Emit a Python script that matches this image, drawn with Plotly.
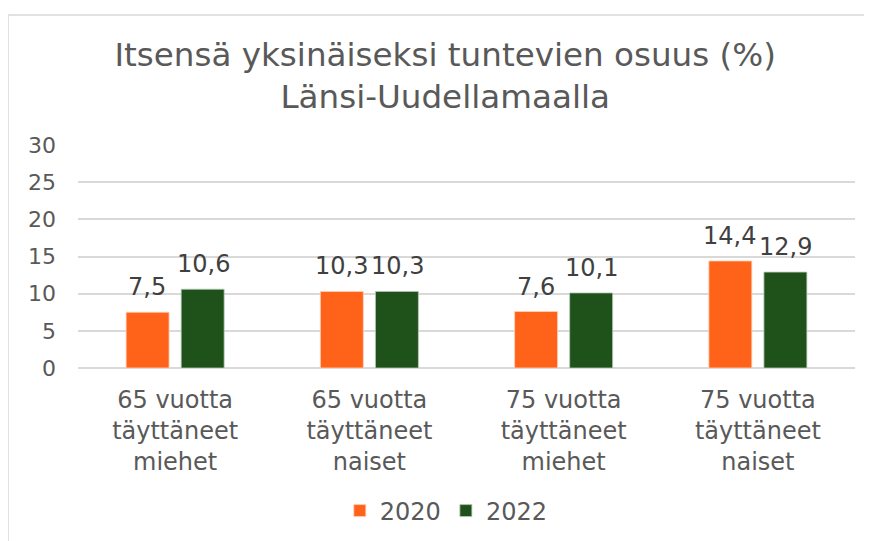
import plotly.graph_objects as go

categories = ["65 vuotta<br>täyttäneet<br>miehet", "65 vuotta<br>täyttäneet<br>naiset",
              "75 vuotta<br>täyttäneet<br>miehet", "75 vuotta<br>täyttäneet<br>naiset"]
values_2020 = [7.5, 10.3, 7.6, 14.4]
values_2022 = [10.6, 10.3, 10.1, 12.9]
y_ticks = [0, 5, 10, 15, 20, 25, 30]

font = "DejaVu Sans"
txt = "#595959"

fig = go.Figure()
fig.add_trace(go.Bar(x=categories, y=values_2020, name="2020",
                     marker=dict(color="#FF6319", line=dict(color="#FFD0B8", width=0.8))))
fig.add_trace(go.Bar(x=categories, y=values_2022, name="2022",
                     marker=dict(color="#1F521B", line=dict(color="#B8C8B8", width=0.8))))

# data labels sit a bit higher above the bars than plotly's outside text
for vals, dx in [(values_2020, -28), (values_2022, 28)]:
    for c, v in zip(categories, vals):
        fig.add_annotation(x=c, y=v, text=f"{v:.1f}".replace(".", ","), showarrow=False,
                           xshift=dx, yshift=9, yanchor="bottom",
                           font=dict(family=font, size=24, color="#404040"))

# page body adds an 8px offset, so the figure is 864x533 drawn from (8, 8)
fig.update_layout(
    width=864, height=533,
    separators=", ",
    paper_bgcolor="white", plot_bgcolor="white",
    margin=dict(l=70, r=17, t=137, b=173, autoexpand=False),
    font=dict(family=font, color=txt, size=22),
    title=dict(text="Itsensä yksinäiseksi tuntevien osuus (%)<br>Länsi-Uudellamaalla",
               x=0.506, xanchor="center", y=1 - 58 / 533, yanchor="middle",
               font=dict(family=font, size=32.6, color=txt)),
    barmode="group", bargap=0.433, bargroupgap=0.22,
    showlegend=True,
    legend=dict(orientation="h", x=0.474, xanchor="center",
                yref="container", y=1 - 503 / 533, yanchor="middle",
                font=dict(family=font, size=24, color=txt), itemwidth=30,
                traceorder="normal"),
    xaxis=dict(showgrid=False, showline=False, ticks="", ticklabelstandoff=15,
               automargin=False, tickfont=dict(family=font, size=24, color=txt)),
    yaxis=dict(range=[0, 30], tickvals=y_ticks, showgrid=True, gridcolor="#D9D9D9",
               gridwidth=1.5, zeroline=True, zerolinecolor="#D9D9D9", zerolinewidth=1.5,
               showline=False, ticks="", ticklabelstandoff=21, automargin=False,
               tickfont=dict(family=font, size=22, color=txt)),
    shapes=[dict(type="rect", xref="paper", yref="paper",
                 x0=-70 / 777, x1=2, y0=-2, y1=(360 - 7) / 223,
                 line=dict(color="#D9D9D9", width=1.5), fillcolor="rgba(0,0,0,0)")],
)

fig.write_html("out.html")
